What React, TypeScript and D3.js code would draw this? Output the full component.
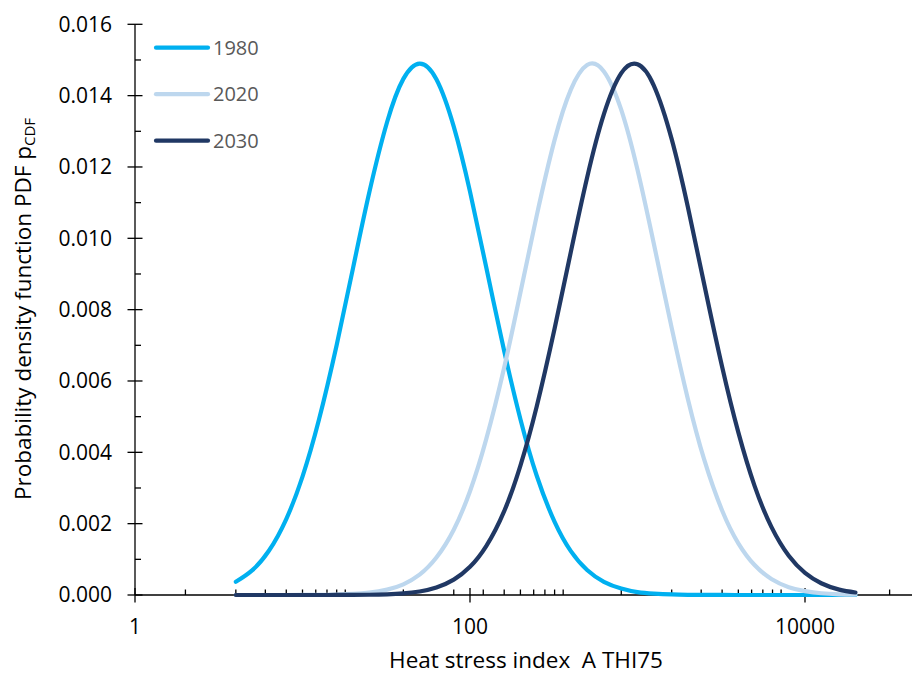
import React from "react";
import * as d3 from "d3";

const xValues = [4, 5, 6.3, 8, 10, 12.5, 16, 20, 25, 32, 40, 50, 63, 80, 100, 125, 160, 200, 250, 320, 400, 500, 630, 800, 1000, 1250, 1600, 2000, 2500, 3200, 4000, 5000, 6300, 8000, 10000, 12500, 16000, 20000];

const pdf1980 = [0.00037, 0.00069, 0.00124, 0.00213, 0.00332, 0.00489, 0.00701, 0.00915, 0.01127, 0.01326, 0.01447, 0.0149, 0.01446, 0.01313, 0.01131, 0.00919, 0.00684, 0.00493, 0.00335, 0.00205, 0.00123, 0.0007, 0.00037, 0.00018, 0.00008, 0.000038, 0.000015, 0.000006, 0.000002, 0.000001, 0, 0, 0, 0, 0, 0, 0, 0];

const pdf2020 = [0, 0, 0, 0, 0.0000015, 0.0000042, 0.000012, 0.000029, 0.000065, 0.00015, 0.0003, 0.00057, 0.00105, 0.00183, 0.00291, 0.00437, 0.00638, 0.00848, 0.01063, 0.01276, 0.01417, 0.01486, 0.01468, 0.0136, 0.01192, 0.00986, 0.00749, 0.00549, 0.0038, 0.00237, 0.00145, 0.00084, 0.00045, 0.00022, 0.00011, 0.000049, 0.00002, 0.000008];

const pdf2030 = [0, 0, 0, 0, 0, 0, 0.000001, 0.000003, 0.000007, 0.000019, 0.000044, 0.000098, 0.00021, 0.00043, 0.00079, 0.00137, 0.00235, 0.00363, 0.00528, 0.00747, 0.00962, 0.0117, 0.01348, 0.01463, 0.01488, 0.01429, 0.01278, 0.01087, 0.00872, 0.0064, 0.00456, 0.00306, 0.00191, 0.0011, 0.00062, 0.00033, 0.00015, 0.00007];

const seriesNames = ["1980", "2020", "2030"];
const seriesColors = ["#00B0F0", "#BDD7EE", "#203864"];
const seriesData = [pdf1980, pdf2020, pdf2030];

const xMajorTicks = [1, 100, 10000];
const xMinorTicks = [2, 4, 6, 8, 10, 12, 14, 16, 18, 40, 80, 120, 160, 200, 240, 280, 320, 360, 800, 1600, 2400, 3200, 4000, 4800, 5600, 6400, 7200, 32000];
const yMajorTicks = [0, 0.002, 0.004, 0.006, 0.008, 0.01, 0.012, 0.014, 0.016];
const yMinorTicks = [0.001, 0.003, 0.005, 0.007, 0.009, 0.011, 0.013, 0.015];

const W = 912;
const H = 674;
const FONT = "'Open Sans', sans-serif";

export default function App() {
  const x = d3.scaleLog().domain([1, 1e6]).range([135, 1140]);
  const y = d3.scaleLinear().domain([0, 0.016]).range([595, 24.3]);
  const line = d3
    .line<number>()
    .x((_, i) => x(xValues[i]))
    .y((d) => y(d))
    .curve(d3.curveNatural);
  const fmt = d3.format(".3f");
  const x0 = x(1);
  const y0 = y(0);

  return (
    <svg
      width={W}
      height={H}
      style={{ position: "absolute", left: 0, top: 0, background: "#fff" }}
      fontFamily={FONT}
    >
      <rect x={0} y={0} width={W} height={H} fill="#fff" />
      {/* axes */}
      <line x1={x0} x2={x0} y1={y(0.016)} y2={y0} stroke="#000" strokeWidth={1.3} />
      <line x1={x0} x2={W} y1={y0} y2={y0} stroke="#000" strokeWidth={1.3} />
      {yMajorTicks.map((t) => (
        <g key={"ym" + t}>
          <line x1={x0 - 7.5} x2={x0 + 7.5} y1={y(t)} y2={y(t)} stroke="#000" strokeWidth={1.3} />
          <text x={112} y={y(t)} dy="0.35em" textAnchor="end" fontSize={21} fill="#000">
            {fmt(t)}
          </text>
        </g>
      ))}
      {yMinorTicks.map((t) => (
        <line key={"yn" + t} x1={x0} x2={x0 + 6} y1={y(t)} y2={y(t)} stroke="#000" strokeWidth={1.3} />
      ))}
      {xMajorTicks.map((t) => (
        <g key={"xm" + t}>
          <line x1={x(t)} x2={x(t)} y1={y0 - 7} y2={y0 + 7.5} stroke="#000" strokeWidth={1.3} />
          <text x={x(t)} y={634} textAnchor="middle" fontSize={21} fill="#000">
            {String(t)}
          </text>
        </g>
      ))}
      {xMinorTicks.map((t) => (
        <line key={"xn" + t} x1={x(t)} x2={x(t)} y1={y0 - 5.5} y2={y0} stroke="#000" strokeWidth={1.3} />
      ))}
      {/* curves */}
      {seriesData.map((s, i) => (
        <path
          key={seriesNames[i]}
          d={line(s) || ""}
          fill="none"
          stroke={seriesColors[i]}
          strokeWidth={4.2}
          strokeLinecap="round"
          strokeLinejoin="round"
        />
      ))}
      {/* legend */}
      {seriesNames.map((n, i) => {
        const ly = 47.7 + i * 46.5;
        return (
          <g key={"lg" + n}>
            <line x1={156} x2={208} y1={ly} y2={ly} stroke={seriesColors[i]} strokeWidth={4.2} strokeLinecap="round" />
            <text x={213} y={ly} dy="0.36em" fontSize={20} fill="#595959">
              {n}
            </text>
          </g>
        );
      })}
      {/* axis titles */}
      <text x={526} y={668} textAnchor="middle" fontSize={22.5} fill="#000" style={{ whiteSpace: "pre" }}>
        {"Heat stress index\u00A0 A THI75"}
      </text>
      <text
        transform={`translate(31,309) rotate(-90)`}
        textAnchor="middle"
        fontSize={22.5}
        fill="#000"
      >
        Probability density function PDF p
        <tspan fontSize={15} dy={4}>CDF</tspan>
      </text>
    </svg>
  );
}
